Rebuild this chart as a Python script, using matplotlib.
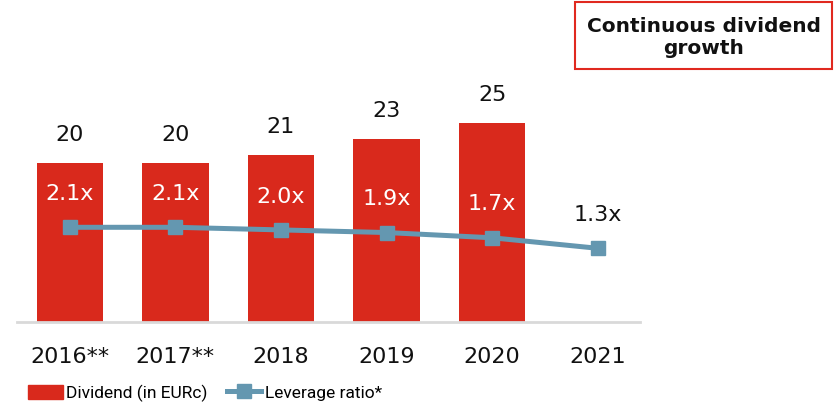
import matplotlib
matplotlib.use("Agg")
import matplotlib.pyplot as plt
from matplotlib.patches import Rectangle, Patch
from matplotlib.lines import Line2D

plt.rcParams['font.family'] = ['DejaVu Sans']

categories = ["2016**", "2017**", "2018", "2019", "2020", "2021"]
dividend = [20, 20, 21, 23, 25, None]
leverage = [2.1, 2.1, 2.0, 1.9, 1.7, 1.3]
leverage_labels = ["2.1x", "2.1x", "2.0x", "1.9x", "1.7x", "1.3x"]

RED = "#d9291c"
BLUE = "#6497b0"
W, H = 840, 408

fig = plt.figure(figsize=(W / 100, H / 100), dpi=100)
left, right, bottom, top = 17, 640, 322, 10
ax = fig.add_axes([left / W, 1 - bottom / H, (right - left) / W, (bottom - top) / H])

x = list(range(len(categories)))
bx = [i for i, v in enumerate(dividend) if v is not None]
bv = [v for v in dividend if v is not None]
ax.bar(bx, bv, width=0.63, color=RED, zorder=2)
for i, v in zip(bx, bv):
    ax.annotate(f"{v}", (i, v), xytext=(0, 13), textcoords="offset points",
                ha="center", va="bottom", fontsize=16, color="#111111")

ax.set_xlim(-0.5, 5.4)
ax.set_ylim(0, 39.2)
for s in ["top", "right", "left"]:
    ax.spines[s].set_visible(False)
ax.spines["bottom"].set_color("#d9d9d9")
ax.spines["bottom"].set_linewidth(2)
ax.set_yticks([])
ax.set_xticks(x)
ax.set_xticklabels(categories, fontsize=16, color="#111111")
ax.tick_params(axis="x", length=0, pad=18)

ax2 = ax.twinx()
ax2.set_ylim(-1.508, 10.378)
ax2.axis("off")
ax2.plot(x, leverage, color=BLUE, lw=3.6, marker="s", markersize=10, zorder=3)
for i, (v, lab) in enumerate(zip(leverage, leverage_labels)):
    col = "white" if dividend[i] is not None else "#111111"
    ax2.annotate(lab, (i, v), xytext=(0, 24), textcoords="offset points",
                 ha="center", va="center", fontsize=16, color=col)

handles = [Patch(facecolor=RED, edgecolor=RED),
           Line2D([0], [0], color=BLUE, lw=3.6, marker="s", markersize=10)]
fig.legend(handles, ["Dividend (in EURc)", "Leverage ratio*"], loc="center left",
           bbox_to_anchor=(28 / W, 1 - 393 / H), ncol=2, frameon=False,
           prop={"family": ["Roboto", "DejaVu Sans"], "size": 12.5},
           handlelength=2.0, handleheight=0.85, handletextpad=0.2, columnspacing=1.1,
           borderpad=0, borderaxespad=0)

fig.add_artist(Rectangle((575 / W, 1 - 69 / H), (832 - 575) / W, 67 / H,
                         transform=fig.transFigure, fill=False, edgecolor="#e0291f", lw=1.5))
fig.text(704 / W, 1 - 37 / H, "Continuous dividend\ngrowth", ha="center", va="center",
         fontsize=14.5, fontweight="bold", color="#111111", linespacing=1.2)

fig.savefig("out.png", dpi=100)
